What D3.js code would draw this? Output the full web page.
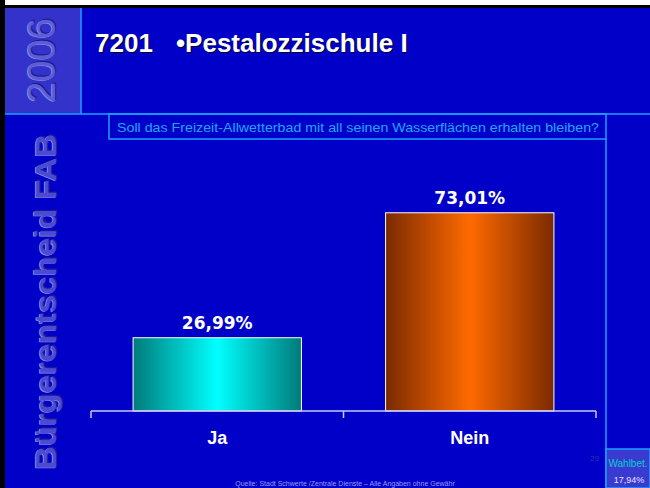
<!DOCTYPE html>
<html>
<head>
<meta charset="utf-8">
<script src="https://cdn.jsdelivr.net/npm/d3@7"></script>
<style>
  html, body { margin: 0; padding: 0; background: #000; }
  svg { display: block; }
</style>
</head>
<body>
<div id="chart"></div>
<script>
let categories = ["Ja", "Nein"];
let values = [26.99, 73.01];
let valueLabels = ["26,99%", "73,01%"];
let gradients = [["#007a7a", "#00ffff"], ["#7a2a00", "#ff6a00"]];

let W = 650, H = 488;
let lineColor = "#1aa0ff";

let svg = d3.select("#chart").append("svg")
    .attr("width", W)
    .attr("height", H);

let defs = svg.append("defs");
gradients.forEach(function(g, i) {
    let lg = defs.append("linearGradient")
        .attr("id", "grad" + i)
        .attr("x1", "0%").attr("x2", "100%")
        .attr("y1", "0%").attr("y2", "0%");
    lg.append("stop").attr("offset", "0%").attr("stop-color", g[0]);
    lg.append("stop").attr("offset", "50%").attr("stop-color", g[1]);
    lg.append("stop").attr("offset", "100%").attr("stop-color", g[0]);
});

// background + frame
svg.append("rect").attr("width", W).attr("height", H).attr("fill", "#000");
svg.append("rect").attr("x", 5).attr("y", 0).attr("width", W - 5).attr("height", 5).attr("fill", "#fff");
svg.append("rect").attr("x", 5).attr("y", 8).attr("width", W - 5).attr("height", H - 8).attr("fill", "#0000c8");

// 2006 panel
svg.append("rect").attr("x", 5).attr("y", 8).attr("width", 76).attr("height", 106).attr("fill", "#3333cc");
svg.append("line").attr("x1", 81).attr("y1", 8).attr("x2", 81).attr("y2", 114)
    .attr("stroke", lineColor).attr("stroke-width", 1.5);
svg.append("line").attr("x1", 5).attr("y1", 114).attr("x2", W).attr("y2", 114)
    .attr("stroke", lineColor).attr("stroke-width", 1.5);

function embossed(txt, x, y, size, len, weight, fill) {
    let g = svg.append("g").attr("transform", "translate(" + x + "," + y + ") rotate(-90)");
    g.append("text").attr("x", 1.2).attr("y", 1.2)
        .attr("font-family", "Liberation Sans, Arial, sans-serif")
        .attr("font-weight", weight).attr("font-size", size)
        .attr("textLength", len).attr("lengthAdjust", "spacingAndGlyphs")
        .attr("fill", "#1c1c90").text(txt);
    g.append("text").attr("x", -0.6).attr("y", -0.6)
        .attr("font-family", "Liberation Sans, Arial, sans-serif")
        .attr("font-weight", weight).attr("font-size", size)
        .attr("textLength", len).attr("lengthAdjust", "spacingAndGlyphs")
        .attr("fill", "#8c8ce8").text(txt);
    g.append("text").attr("x", 0).attr("y", 0)
        .attr("font-family", "Liberation Sans, Arial, sans-serif")
        .attr("font-weight", weight).attr("font-size", size)
        .attr("textLength", len).attr("lengthAdjust", "spacingAndGlyphs")
        .attr("fill", fill).text(txt);
}
embossed("2006", 55, 103, 38, 85, "normal", "#5c5cd6");
embossed("Bürgerentscheid FAB", 56, 470, 30, 336, "bold", "#4a4ad4");

// title
[["7201", 95], ["•Pestalozzischule I", 176]].forEach(function(t) {
    svg.append("text").attr("x", t[1] + 1.2).attr("y", 53.2)
        .attr("font-family", "Liberation Sans, Arial, sans-serif")
        .attr("font-weight", "bold").attr("font-size", 26)
        .attr("fill", "#000030").text(t[0]);
    svg.append("text").attr("x", t[1]).attr("y", 52)
        .attr("font-family", "Liberation Sans, Arial, sans-serif")
        .attr("font-weight", "bold").attr("font-size", 26)
        .attr("fill", "#fff").text(t[0]);
});

// question box
svg.append("rect").attr("x", 109).attr("y", 114).attr("width", 497).attr("height", 25)
    .attr("fill", "none").attr("stroke", lineColor).attr("stroke-width", 1.5);
svg.append("line").attr("x1", 606).attr("y1", 139).attr("x2", 606).attr("y2", H)
    .attr("stroke", lineColor).attr("stroke-width", 1.5);
svg.append("text").attr("x", 117).attr("y", 132)
    .attr("font-family", "Liberation Sans Narrow, Liberation Sans, Arial, sans-serif")
    .attr("font-size", 13).attr("fill", "#1aa8ff")
    .attr("textLength", 482).attr("lengthAdjust", "spacingAndGlyphs")
    .text("Soll das Freizeit-Allwetterbad mit all seinen Wasserflächen erhalten bleiben?");

// chart
let x0 = 91, x1 = 596, yBase = 411;
let x = d3.scaleBand().domain(categories).range([x0, x1]).paddingInner(1 / 3).paddingOuter(1 / 6);
let xAxisScale = d3.scaleBand().domain(categories).range([x0, x1]).padding(0);
let y = d3.scaleLinear().domain([0, 100]).range([yBase, yBase - 271.5]);

svg.selectAll(".bar").data(values).enter().append("rect")
    .attr("class", "bar")
    .attr("x", function(d, i) { return x(categories[i]); })
    .attr("y", function(d) { return y(d); })
    .attr("width", x.bandwidth())
    .attr("height", function(d) { return y(0) - y(d); })
    .attr("fill", function(d, i) { return "url(#grad" + i + ")"; })
    .attr("stroke", "#ffffff").attr("stroke-width", 1);

svg.selectAll(".vlab").data(values).enter().append("text")
    .attr("class", "vlab")
    .attr("x", function(d, i) { return x(categories[i]) + x.bandwidth() / 2; })
    .attr("y", function(d) { return y(d) - 9; })
    .attr("text-anchor", "middle")
    .attr("font-family", "DejaVu Sans, Verdana, sans-serif")
    .attr("font-weight", "bold").attr("font-size", 17)
    .attr("fill", "#fff")
    .text(function(d, i) { return valueLabels[i]; });

// axis
let axisColor = "#c8c8f0";
svg.append("line").attr("x1", x0).attr("y1", yBase).attr("x2", x1).attr("y2", yBase)
    .attr("stroke", axisColor).attr("stroke-width", 1.5);
let tickPos = categories.map(function(c) { return xAxisScale(c); }).concat([x1]);
svg.selectAll(".tick").data(tickPos).enter().append("line")
    .attr("x1", function(d) { return d; }).attr("x2", function(d) { return d; })
    .attr("y1", yBase).attr("y2", yBase + 7)
    .attr("stroke", axisColor).attr("stroke-width", 1.5);

svg.selectAll(".clab").data(categories).enter().append("text")
    .attr("class", "clab")
    .attr("x", function(d) { return xAxisScale(d) + xAxisScale.bandwidth() / 2; })
    .attr("y", 444)
    .attr("text-anchor", "middle")
    .attr("font-family", "Liberation Sans, Arial, sans-serif")
    .attr("font-weight", "bold").attr("font-size", 18)
    .attr("fill", "#fff")
    .text(function(d) { return d; });

// source
svg.append("text").attr("x", 345).attr("y", 486)
    .attr("text-anchor", "middle")
    .attr("font-family", "Liberation Sans, Arial, sans-serif")
    .attr("font-size", 7).attr("fill", "#9a9aff")
    .text("Quelle:  Stadt Schwerte /Zentrale Dienste – Alle Angaben ohne Gewähr");

// faint leftover number
svg.append("text").attr("x", 590).attr("y", 461)
    .attr("font-family", "Liberation Sans, Arial, sans-serif")
    .attr("font-size", 8).attr("fill", "#3333b0").text("29");

// turnout box
svg.append("rect").attr("x", 606).attr("y", 449).attr("width", 44).attr("height", 39)
    .attr("fill", "#3a3ad0").attr("stroke", lineColor).attr("stroke-width", 1.5);
svg.append("text").attr("x", 628).attr("y", 467)
    .attr("text-anchor", "middle")
    .attr("font-family", "Liberation Sans Narrow, Liberation Sans, Arial, sans-serif")
    .attr("font-size", 10).attr("fill", "#00d0d0").text("Wahlbet.");
svg.append("text").attr("x", 629).attr("y", 483)
    .attr("text-anchor", "middle")
    .attr("font-family", "Liberation Sans, Arial, sans-serif")
    .attr("font-size", 9).attr("fill", "#e0e0ff").text("17,94%");
</script>
</body>
</html>
